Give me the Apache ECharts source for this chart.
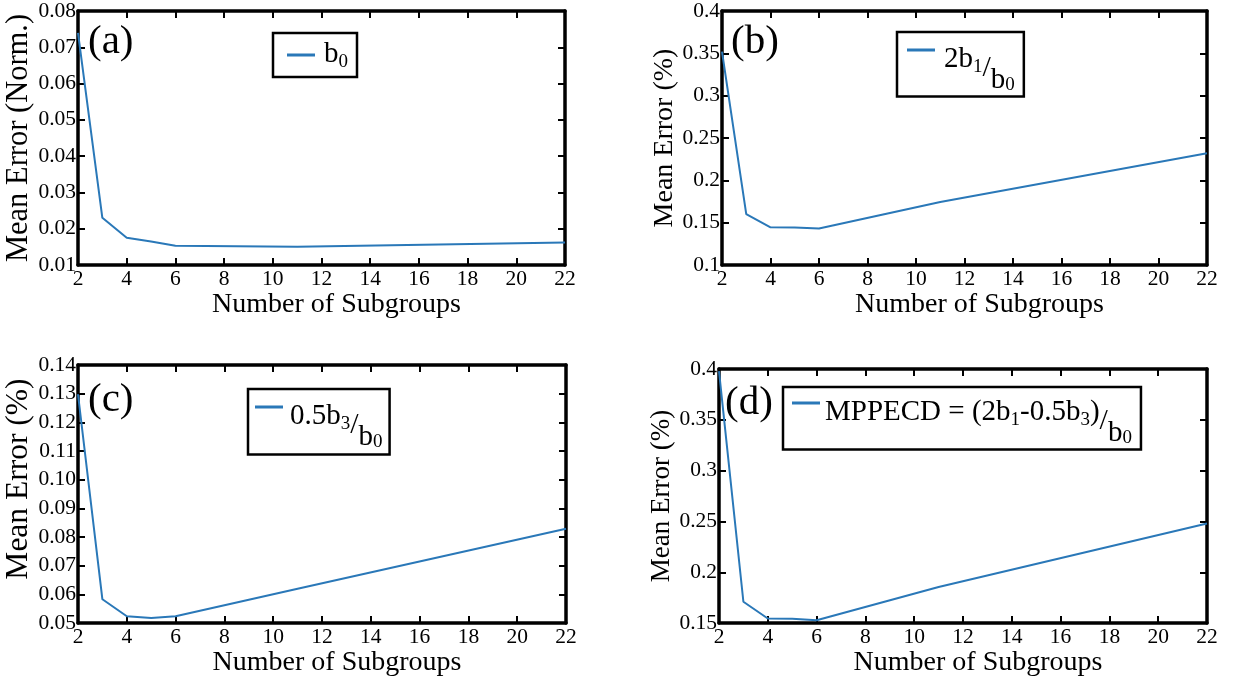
<!DOCTYPE html>
<html><head><meta charset="utf-8">
<script src="https://cdn.jsdelivr.net/npm/echarts@6/dist/echarts.min.js"></script>
<style>html,body{margin:0;padding:0;background:#fff}#c{width:1237px;height:678px}</style>
</head><body><div id="c"></div>
<script>
// ---- data ----
const xValues = [2, 3, 4, 5, 6, 11, 22];
const seriesA = [0.0740, 0.0230, 0.0175, 0.0165, 0.0153, 0.0150, 0.0162];
const seriesB = [0.352, 0.160, 0.1445, 0.1442, 0.1432, 0.1745, 0.232];
const seriesC = [0.1298, 0.0583, 0.0524, 0.0518, 0.0524, 0.0620, 0.0829];
const seriesD = [0.398, 0.171, 0.1545, 0.1543, 0.1528, 0.1855, 0.248];
const xTickLabels = ['2','4','6','8','10','12','14','16','18','20','22'];
const yTicksA = ['0.01','0.02','0.03','0.04','0.05','0.06','0.07','0.08'];
const yTicksB = ['0.1','0.15','0.2','0.25','0.3','0.35','0.4'];
const yTicksC = ['0.05','0.06','0.07','0.08','0.09','0.10','0.11','0.12','0.13','0.14'];
const yTicksD = ['0.15','0.2','0.25','0.3','0.35','0.4'];
const yTitles = ['Mean Error (Norm.)','Mean Error (%)','Mean Error (%)','Mean Error (%)'];
const xTitle = 'Number of Subgroups';
const panelLabels = ['(a)','(b)','(c)','(d)'];
const seriesNames = ['b0','2b1/b0','0.5b3/b0','MPPECD = (2b1-0.5b3)/b0'];
const legendRich = [
  '{g| }{t|b}{s|0}',
  '{g| }{t|2b}{s|1}{sl|/}{l|b}{ls|0}',
  '{h| }{t|0.5b}{s|3}{sl|/}{l|b}{ls|0}',
  '{t|MPPECD = (2b}{s|1}{t|-0.5b}{s|3}{t|)}{sl|/}{l|b}{ls|0}'
];

// ---- layout / style ----
const FONT = '"Liberation Serif", "Times New Roman", serif';
const LINE_COLOR = '#2a78b8';
const grids = [
  {left: 78, top: 11, width: 487, height: 254},
  {left: 722, top: 11, width: 485, height: 254},
  {left: 78, top: 365, width: 488, height: 259},
  {left: 719, top: 369, width: 488, height: 256}
];
const yTickSets = [yTicksA, yTicksB, yTicksC, yTicksD];
const seriesData = [seriesA, seriesB, seriesC, seriesD];
const yNameGaps = [37, 41, 40, 40];
const yNameSizes = [30.5, 28, 31.5, 27];
const yNamePad = [[0, 0, 0, 0], [0, 0, 0, 0], [0, 0, 0, 30], [0, 0, 0, 0]];
const legendPos = [
  {left: 273, top: 33, padding: [6, 9, 5, 14]},
  {left: 897, top: 32, padding: [3, 9, 2, 10]},
  {left: 248, top: 389, padding: [3, 7, 3, 7]},
  {left: 783, top: 387, padding: [1, 9, 2, 9]}
];
const legendBlockH = [32, 51, 51, 51];
const labelPos = [
  {left: 88, top: 22}, {left: 731, top: 22}, {left: 88, top: 380}, {left: 725, top: 383}
];

const rich = {
  g: {width: 4, fontSize: 10, lineHeight: 10},
  h: {width: 2, fontSize: 10, lineHeight: 10},
  t: {fontSize: 29, fontFamily: FONT, lineHeight: 30, verticalAlign: 'top', color: '#000'},
  s: {fontSize: 19, fontFamily: FONT, lineHeight: 20, padding: [13, 0, 0, 0], verticalAlign: 'top', color: '#000'},
  sl: {fontSize: 30, fontFamily: FONT, lineHeight: 32, padding: [9, 0, 0, 0], verticalAlign: 'top', color: '#000'},
  l: {fontSize: 29, fontFamily: FONT, lineHeight: 30, padding: [21, 0, 0, 0], verticalAlign: 'top', color: '#000'},
  ls: {fontSize: 19, fontFamily: FONT, lineHeight: 20, padding: [31, 0, 0, 0], verticalAlign: 'top', color: '#000'}
};

function iconPath(h, mid) {
  return 'path://M0,0h28v0.01h-28zM0,' + (mid - 1.5) + 'h28v3h-28zM0,' + (h - 0.01) + 'h28v0.01h-28z';
}
const legendIconMid = [16, 15, 15, 15];

const axisLineStyle = {lineStyle: {color: '#000', width: 3.5}};
const tickStyle = {inside: true, length: 7, lineStyle: {color: '#000', width: 2}};

const option = {
  backgroundColor: '#fff',
  animation: false,
  title: panelLabels.map((t, i) => ({
    text: t, left: labelPos[i].left, top: labelPos[i].top, padding: 0,
    textStyle: {fontSize: 41, fontFamily: FONT, fontWeight: 'normal', color: '#000'}
  })),
  grid: grids.map(g => Object.assign({containLabel: false}, g)),
  xAxis: [],
  yAxis: [],
  legend: [],
  series: []
};

grids.forEach((g, i) => {
  const ticks = yTickSets[i];
  const ymin = parseFloat(ticks[0]);
  const ymax = parseFloat(ticks[ticks.length - 1]);
  const yint = Math.round((parseFloat(ticks[1]) - ymin) * 1e6) / 1e6;
  const xmin = parseFloat(xTickLabels[0]);
  const xmax = parseFloat(xTickLabels[xTickLabels.length - 1]);
  const xint = parseFloat(xTickLabels[1]) - xmin;
  option.xAxis.push({
    type: 'value', gridIndex: i, position: 'bottom', min: xmin, max: xmax, interval: xint,
    axisLine: axisLineStyle, axisTick: tickStyle, splitLine: {show: false},
    axisLabel: {margin: 3, fontSize: 21.5, fontFamily: FONT, color: '#000',
      formatter: v => xTickLabels[Math.round((v - xmin) / xint)] || ''},
    name: xTitle, nameLocation: 'middle', nameGap: 10,
    nameTextStyle: {fontSize: 28, fontFamily: FONT, color: '#000', padding: [0, 0, 0, 30]}
  });
  option.xAxis.push({
    type: 'value', gridIndex: i, position: 'top', min: xmin, max: xmax, interval: xint,
    axisLine: axisLineStyle, axisTick: tickStyle, splitLine: {show: false},
    axisLabel: {show: false}
  });
  option.yAxis.push({
    type: 'value', gridIndex: i, position: 'left', min: ymin, max: ymax, interval: yint,
    axisLine: axisLineStyle, axisTick: tickStyle, splitLine: {show: false},
    axisLabel: {margin: 2, fontSize: 21.5, fontFamily: FONT, color: '#000',
      formatter: v => ticks[Math.round((v - ymin) / yint)] || ''},
    name: yTitles[i], nameLocation: 'middle', nameGap: yNameGaps[i], nameRotate: 90,
    nameTextStyle: {fontSize: yNameSizes[i], fontFamily: FONT, color: '#000', padding: yNamePad[i]}
  });
  option.yAxis.push({
    type: 'value', gridIndex: i, position: 'right', min: ymin, max: ymax, interval: yint,
    axisLine: axisLineStyle, axisTick: tickStyle, splitLine: {show: false},
    axisLabel: {show: false}
  });
  option.series.push({
    type: 'line', name: seriesNames[i], xAxisIndex: 2 * i, yAxisIndex: 2 * i,
    data: xValues.map((x, k) => [x, seriesData[i][k]]),
    showSymbol: false, symbol: 'none', color: LINE_COLOR,
    lineStyle: {color: LINE_COLOR, width: 2}, clip: false, z: 3
  });
  const lp = legendPos[i];
  const bh = legendBlockH[i];
  const rt = legendRich[i];
  option.legend.push({
    data: [{name: seriesNames[i], icon: iconPath(bh, legendIconMid[i])}],
    left: lp.left, top: lp.top, padding: lp.padding, orient: 'horizontal',
    itemWidth: 28, itemHeight: bh, selectedMode: false,
    backgroundColor: '#fff', borderColor: '#000', borderWidth: 2.5, borderRadius: 0,
    itemStyle: {color: LINE_COLOR, borderWidth: 0},
    lineStyle: {width: 0},
    formatter: () => rt,
    textStyle: {rich: rich, fontFamily: FONT, fontSize: 29, color: '#000'},
    z: 10
  });
});

const chart = echarts.init(document.getElementById('c'), null, {renderer: 'canvas'});
chart.setOption(option);
</script>
</body></html>
